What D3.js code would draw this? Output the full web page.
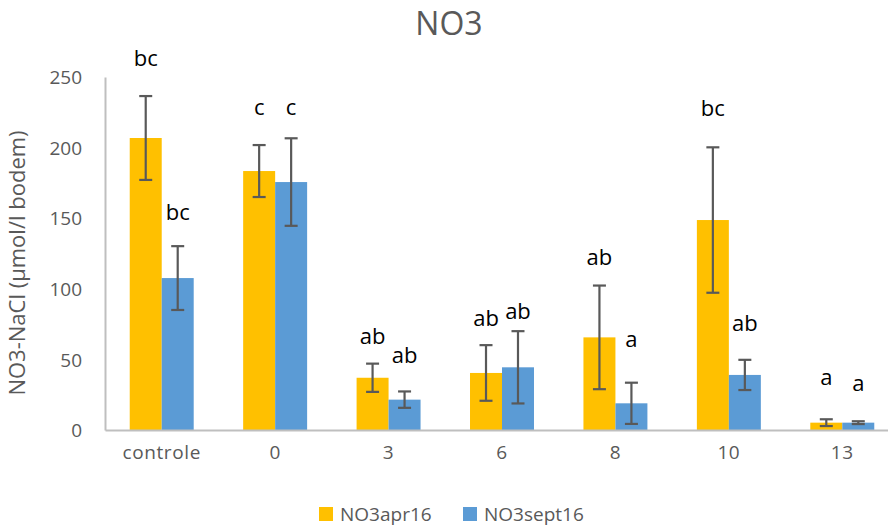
<!DOCTYPE html>
<html>
<head>
<meta charset="utf-8">
<script src="https://cdn.jsdelivr.net/npm/d3@7"></script>
<style>
  body { margin: 0; background: #fff; }
  text { font-family: "Open Sans", sans-serif; }
</style>
</head>
<body>
<div class="chart-container"></div>
<script>
var width = 888, height = 528,
    margin = {top: 77, bottom: 98, left: 105, right: -11};

// data
var categories = ['controle', '0', '3', '6', '8', '10', '13'];
var seriesNames = ['NO3apr16', 'NO3sept16'];
var aprValues  = [206.8, 183.4, 37.0, 40.4, 65.6, 148.7, 5.2];
var aprErrors  = [29.7, 18.4, 10.0, 19.7, 36.7, 51.5, 2.4];
var septValues = [107.6, 175.6, 21.5, 44.4, 18.9, 39.0, 5.2];
var septErrors = [22.6, 31.0, 5.8, 25.6, 14.6, 10.7, 1.0];
// significance letters and the height (in data units) where each one sits
var aprLetters  = ['bc', 'c', 'ab', 'ab', 'ab', 'bc', 'a'];
var aprLetterAt = [257.8, 223, 60.9, 73.7, 116.9, 222.4, 31.9];
var septLetters  = ['bc', 'c', 'ab', 'ab', 'a', 'ab', 'a'];
var septLetterAt = [148.7, 223, 47.7, 78.4, 58.6, 70.3, 27.8];
var yTicks = [0, 50, 100, 150, 200, 250];

var colors = ['#FFC000', '#5B9BD5'];

var rows = [];
categories.forEach(function(c, i) {
    rows.push({cat: c, s: 0, value: aprValues[i], err: aprErrors[i], letter: aprLetters[i], at: aprLetterAt[i]});
    rows.push({cat: c, s: 1, value: septValues[i], err: septErrors[i], letter: septLetters[i], at: septLetterAt[i]});
});

var axesWidth = width - margin.left - margin.right,
    axesHeight = height - margin.top - margin.bottom;

var root = d3.select('.chart-container')
    .append('svg')
    .attr('width', width)
    .attr('height', height);

root.append('text')
    .attr('x', 449)
    .attr('y', 35)
    .attr('text-anchor', 'middle')
    .style('font-size', '32px')
    .style('fill', '#595959')
    .text('NO3');

root.append('text')
    .attr('transform', 'translate(25, 263) rotate(-90)')
    .attr('text-anchor', 'middle')
    .style('font-size', '22px')
    .style('fill', '#595959')
    .text('NO3-NaCl (µmol/l bodem)');

const svg = root.append('g')
    .attr('transform', `translate(${margin.left},${margin.top})`);

const x = d3.scaleBand()
    .range([0, axesWidth])
    .domain(categories)
    .paddingInner(0.436)
    .paddingOuter(0.218);
const x1 = d3.scaleBand()
    .range([0, x.bandwidth()])
    .domain([0, 1]);
const y = d3.scaleLinear()
    .domain([0, 250])
    .range([axesHeight, 0]);

// Y axis
const yAxis = svg.append('g')
    .call(d3.axisLeft(y).tickValues(yTicks).tickSize(0).tickPadding(23));
yAxis.select('.domain').attr('stroke', '#bfbfbf').attr('stroke-width', 2);
yAxis.selectAll('text')
    .style('font-size', '19px')
    .style('fill', '#595959')
    .attr('dy', '0.35em');

// bars
svg.selectAll('rect.bar')
    .data(rows)
    .join('rect')
    .attr('class', 'bar')
    .attr('x', d => x(d.cat) + x1(d.s))
    .attr('y', d => y(d.value))
    .attr('width', x1.bandwidth())
    .attr('height', d => axesHeight - y(d.value))
    .attr('fill', d => colors[d.s]);

// X axis
const xAxis = svg.append('g')
    .attr('transform', `translate(0, ${axesHeight})`)
    .call(d3.axisBottom(x).tickSize(0).tickPadding(16));
xAxis.select('.domain').attr('stroke', '#bfbfbf').attr('stroke-width', 2);
xAxis.selectAll('text')
    .style('font-size', '19px')
    .style('fill', '#595959')
    .style('letter-spacing', '0.6px');

// error bars
var eb = svg.selectAll('g.err')
    .data(rows)
    .join('g')
    .attr('class', 'err')
    .attr('transform', d => `translate(${x(d.cat) + x1(d.s) + x1.bandwidth() / 2},0)`)
    .attr('stroke', '#595959')
    .attr('stroke-width', 2.2);
eb.append('line')
    .attr('y1', d => y(d.value + d.err))
    .attr('y2', d => y(d.value - d.err));
eb.append('line')
    .attr('x1', -6.5).attr('x2', 6.5)
    .attr('y1', d => y(d.value + d.err))
    .attr('y2', d => y(d.value + d.err));
eb.append('line')
    .attr('x1', -6.5).attr('x2', 6.5)
    .attr('y1', d => y(d.value - d.err))
    .attr('y2', d => y(d.value - d.err));

// letters
svg.selectAll('text.letter')
    .data(rows)
    .join('text')
    .attr('class', 'letter')
    .attr('x', d => x(d.cat) + x1(d.s) + x1.bandwidth() / 2)
    .attr('y', d => y(d.at))
    .attr('text-anchor', 'middle')
    .style('font-size', '22px')
    .style('fill', '#000')
    .text(d => d.letter);

// legend
var legend = root.append('g')
    .attr('transform', 'translate(319, 507)');
var items = legend.selectAll('g')
    .data(seriesNames)
    .join('g')
    .attr('transform', (d, i) => `translate(${i * 144},0)`);
items.append('rect')
    .attr('width', 14)
    .attr('height', 14)
    .attr('fill', (d, i) => colors[i]);
items.append('text')
    .attr('x', 21)
    .attr('y', 7)
    .attr('dy', '0.35em')
    .style('font-size', '19px')
    .style('fill', '#595959')
    .text(d => d);
</script>
</body>
</html>
